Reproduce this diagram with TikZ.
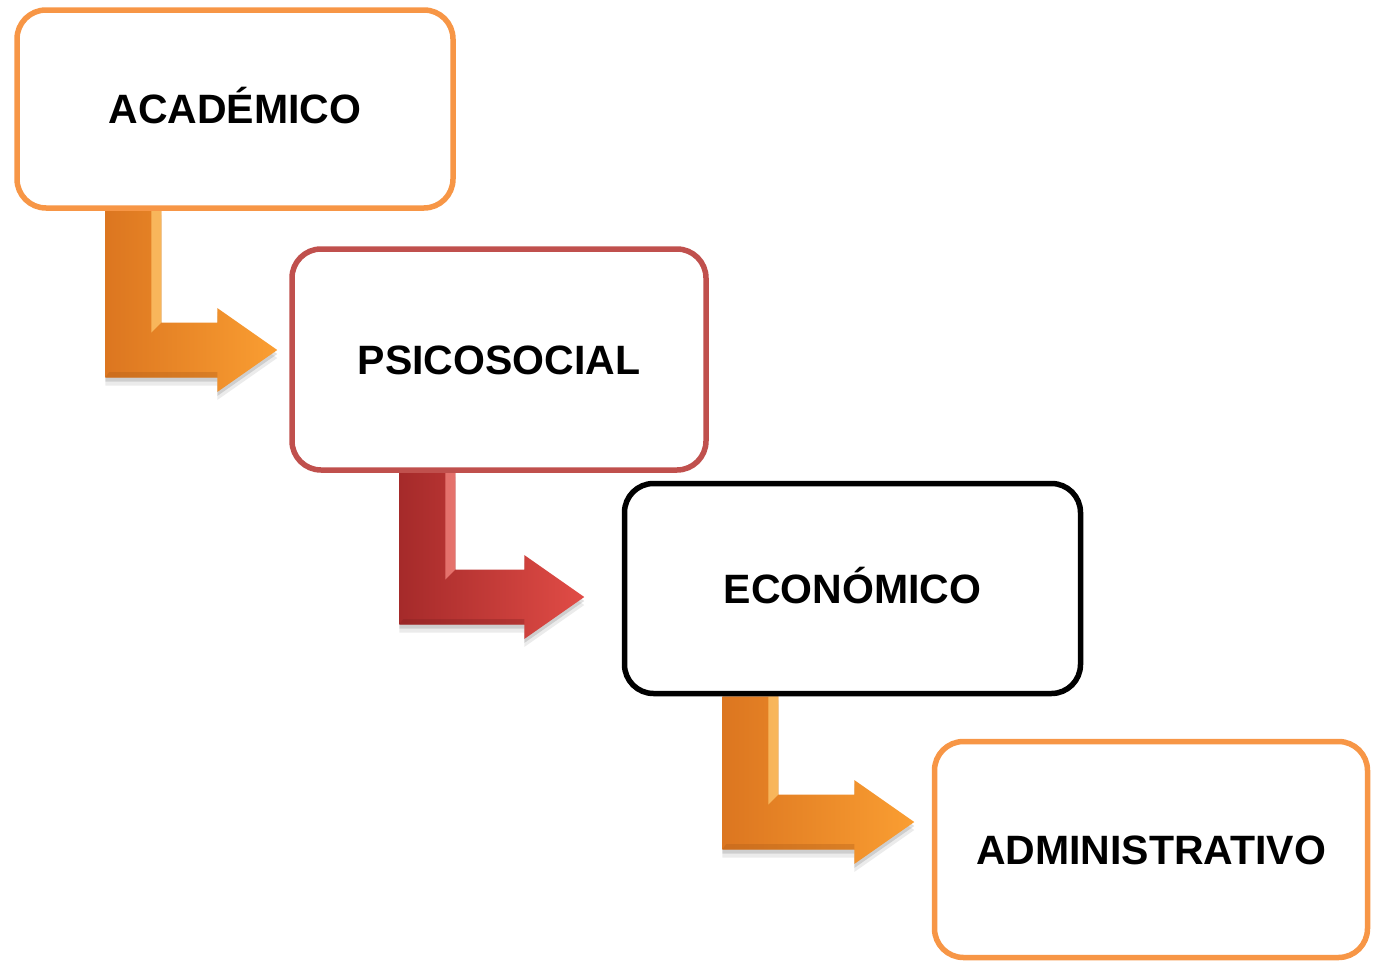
\documentclass[tikz,border=0pt]{standalone}
\usepackage{fontspec}
\setmainfont{Liberation Sans}
\usetikzlibrary{calc,backgrounds}
\definecolor{boxorange}{RGB}{247,150,70}
\definecolor{boxred}{RGB}{192,80,77}
\definecolor{orangedark}{RGB}{220,118,32}
\definecolor{orangelight}{RGB}{250,158,50}
\definecolor{orangehi}{RGB}{255,200,110}
\definecolor{reddark}{RGB}{165,42,42}
\definecolor{redlight}{RGB}{225,76,70}
\definecolor{redhi}{RGB}{245,135,128}

% outline of a bent arrow: #1 top left of the stem, #2 tip
\newcommand{\arrowpath}[2]{let \p1=(#1), \p2=(#2) in
  (\p1) -- (\x1+56pt,\y1) -- (\x1+56pt,\y2+27.5pt) -- (\x2-60pt,\y2+27.5pt)
  -- (\x2-60pt,\y2+42pt) -- (\p2) -- (\x2-60pt,\y2-42pt)
  -- (\x2-60pt,\y2-27.5pt) -- (\x1,\y2-27.5pt) -- cycle}
% #1 start, #2 tip, #3 dark, #4 light, #5 highlight
\newcommand{\bentarrow}[5]{%
  \fill[black,opacity=.08] \arrowpath{$(#1)+(0,8)$}{$(#2)+(0,8)$};
  \fill[black,opacity=.12] \arrowpath{$(#1)+(0,4)$}{$(#2)+(0,4)$};
  \shade[left color=#3,right color=#4] \arrowpath{#1}{#2};
  \fill[#5,opacity=.75] let \p1=(#1), \p2=(#2) in
    (\x1+46pt,\y1) -- (\x1+56pt,\y1) -- (\x1+56pt,\y2+27.5pt)
    -- (\x1+46pt,\y2+17.5pt) -- cycle;
  \fill[#3!80!black,opacity=.35] let \p1=(#1), \p2=(#2) in
    (\x1,\y2-27.5pt) -- (\x2-60pt,\y2-27.5pt) -- (\x2-60pt,\y2-22pt)
    -- (\x1+4pt,\y2-22pt) -- cycle;
}

\begin{document}
\begin{tikzpicture}[x=1pt,y=-1pt,
    caja/.style={draw,fill=white,line width=5.5pt,rounded corners=29pt,
      inner sep=0pt,text height=29pt,text depth=0pt,
      font=\fontsize{41}{48}\selectfont\bfseries}]
  \useasboundingbox (0,0) rectangle (1374,961);

  % boxes:
  \node[caja,draw=boxorange,minimum width=436,minimum height=198] (acad) at (235,109) {ACADÉMICO};
  \node[caja,draw=boxred,minimum width=414,minimum height=221] (psico) at (499,359.5) {PSICOSOCIAL};
  \node[caja,draw=black,minimum width=456,minimum height=210] (econ) at (852.5,588.5) {ECONÓMICO};
  \node[caja,draw=boxorange,minimum width=433,minimum height=216] (admin) at (1151,849.5) {ADMINISTRATIVO};

  % arrow ends:
  \coordinate (a1) at ($(acad.south west)+(91,0)$);
  \coordinate (t1) at ($(psico.west)+(-12,-9.5)$);
  \coordinate (a2) at ($(psico.south west)+(110,0)$);
  \coordinate (t2) at ($(econ.west)+(-37.5,8.5)$);
  \coordinate (a3) at ($(econ.south west)+(100.5,0)$);
  \coordinate (t3) at ($(admin.west)+(-17.5,-27.5)$);

  \begin{scope}[on background layer]
    \bentarrow{a1}{t1}{orangedark}{orangelight}{orangehi}
    \bentarrow{a2}{t2}{reddark}{redlight}{redhi}
    \bentarrow{a3}{t3}{orangedark}{orangelight}{orangehi}
  \end{scope}
\end{tikzpicture}
\end{document}
